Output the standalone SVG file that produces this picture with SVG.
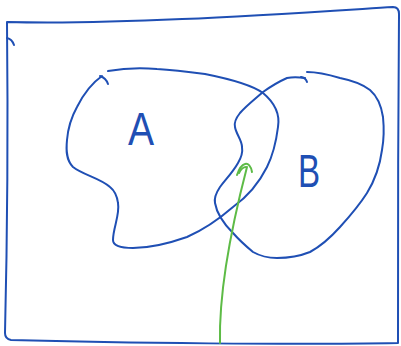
<svg xmlns="http://www.w3.org/2000/svg" width="401" height="346" viewBox="0 0 401 346">
<style>
.ink{fill:none;stroke:#1f4fb4;stroke-width:2;stroke-linecap:round;stroke-linejoin:round}
.lbl{fill:#1f4fb4;font-family:"Liberation Sans",Arial,sans-serif;font-size:46px}
.arrow{fill:none;stroke:#5dbb46;stroke-width:2;stroke-linecap:round;stroke-linejoin:round}
</style>
<rect width="401" height="346" fill="#fff"/>
<g id="frame">
<path class="ink" d="M7,22 C120,25 280,14 393,7 Q399,7 399,14 C398,120 398,240 398,343 C300,345 120,343 11,340 Q5,339 5,333 C7,250 8,120 7,22"/>
<path class="ink" d="M7,38 Q12,39 14,45"/>
</g>
<g id="nodeA">
<path class="ink" d="M108,71 C125,68 145,68 157,69 C175,70 190,72 205,74 C230,79 252,85 263,93 C275,103 280,115 278,127 C276,143 273,155 267,167 C258,185 247,197 233,207 C218,220 203,230 187,237 C170,243 152,248 133,248 C120,248 113,245 113,240 C113,228 120,215 118,203 C117,195 115,191 110,187 C100,178 83,175 73,167 C66,160 66,150 67,140 C68,128 72,116 77,107 C83,95 92,83 102,76"/>
<path class="ink" d="M100,76 Q106,78 108,84"/>
<text class="lbl" x="141" y="145" text-anchor="middle" transform="translate(141 0) scale(0.85 1) translate(-141 0)">A</text>
</g>
<g id="nodeB">
<path class="ink" d="M305,78 C298,77 292,77 287,78 C278,82 270,87 263,92 C255,99 246,106 240,113 C236,118 234,123 235,127 C236,134 242,140 242,147 C243,153 241,158 238,163 C233,172 226,179 220,187 C216,193 214,198 215,203 C217,215 225,225 233,233 C240,241 247,247 253,252 C260,256 268,258 277,258 C289,258 300,256 310,252 C321,246 331,237 340,227 C350,216 360,204 367,193 C375,180 380,165 382,150 C384,139 384,127 383,117 C381,104 377,96 370,90 C361,83 350,80 340,78 C330,75 318,72 307,72"/>
<path class="ink" d="M301,77 Q306,78 307,82"/>
<text class="lbl" x="309" y="187" text-anchor="middle" transform="translate(309 0) scale(0.72 1) translate(-309 0)">B</text>
</g>
<g id="connectors">
<path class="arrow" d="M220,343 C219,300 228,240 247,167"/>
<path class="arrow" d="M237,175 C239,169 241,165 245,164 C248,163 251,166 252,172"/>
<path class="arrow" d="M239,173 C241,169 243,167 246,167"/>
</g>
</svg>
